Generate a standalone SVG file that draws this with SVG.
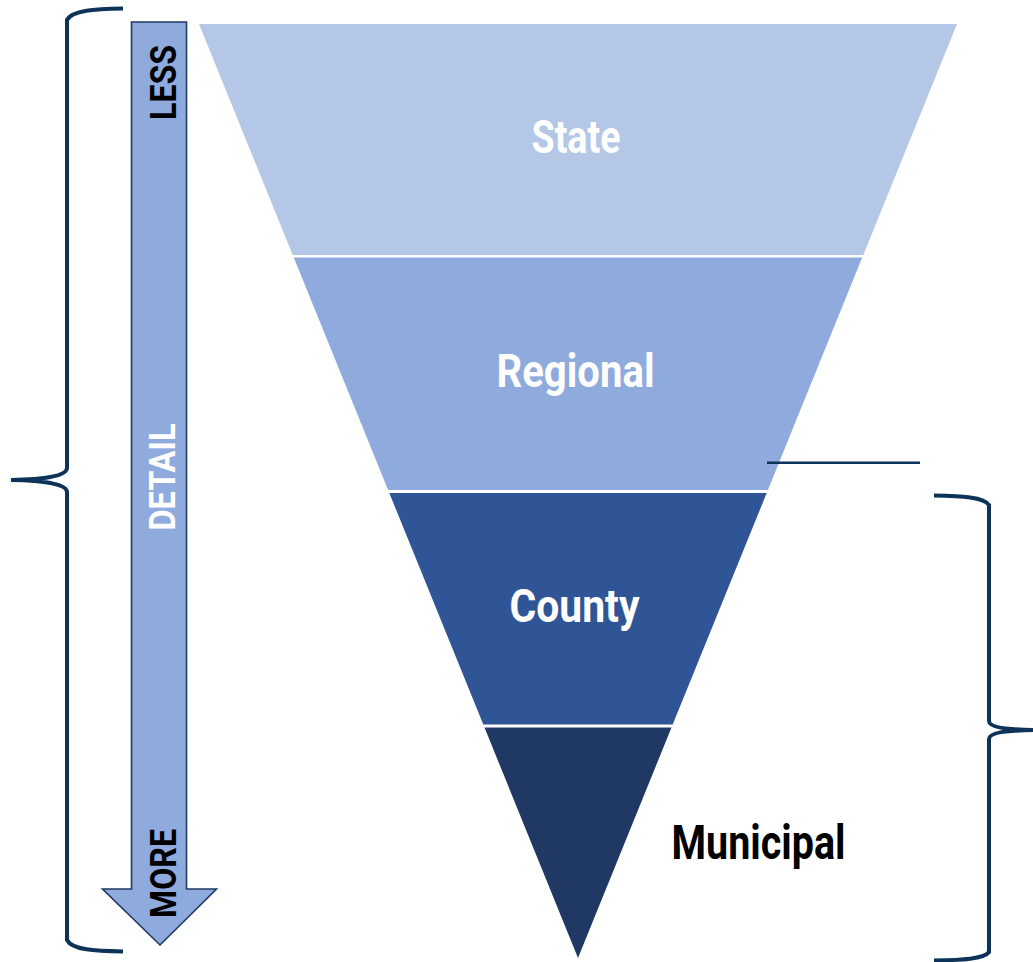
<svg xmlns="http://www.w3.org/2000/svg" width="1033" height="962" viewBox="0 0 1033 962">
<style>
.lbl{font-family:Roboto,"Liberation Sans",sans-serif;font-weight:700;font-size:46px;text-anchor:middle}
.side{font-family:Roboto,"Liberation Sans",sans-serif;font-weight:700;font-size:37px;text-anchor:middle}
.brace{fill:none;stroke:#0D3358;stroke-width:4;stroke-linecap:butt}
</style>
<rect width="1033" height="962" fill="#ffffff"/>
<g id="state"><polygon points="199,24 957,24 863.3,255 292.7,255" fill="#B4C7E7"/><text class="lbl" x="576" y="152.7" fill="#ffffff" textLength="89" lengthAdjust="spacingAndGlyphs">State</text></g>
<g id="regional"><polygon points="293.8,257.5 862.2,257.5 767.9,490 388.1,490" fill="#8FAADC"/><text class="lbl" x="575.5" y="387.3" fill="#ffffff" textLength="158" lengthAdjust="spacingAndGlyphs">Regional</text></g>
<g id="county"><polygon points="389.3,493 766.7,493 672.7,724.5 483.3,724.5" fill="#2F5597"/><text class="lbl" x="574.5" y="622.3" fill="#ffffff" textLength="130" lengthAdjust="spacingAndGlyphs">County</text></g>
<g id="municipal"><polygon points="484.5,727.5 671.5,727.5 578,958" fill="#203864"/><text class="lbl" x="758.5" y="859.3" fill="#000000" style="font-size:48px" textLength="174" lengthAdjust="spacingAndGlyphs">Municipal</text></g>
<g id="detail-arrow">
<polygon points="131.5,22 186.5,22 186.5,889 216.5,889 160,945 102.5,889 131.5,889" fill="#8FAADC" stroke="#1F3864" stroke-width="1.6" stroke-linejoin="miter"/>
<text class="side" transform="translate(176,82.5) rotate(-90)" fill="#000000" textLength="75" lengthAdjust="spacingAndGlyphs">LESS</text>
<text class="side" transform="translate(175,477) rotate(-90)" fill="#ffffff" textLength="107" lengthAdjust="spacingAndGlyphs">DETAIL</text>
<text class="side" transform="translate(176,873.5) rotate(-90)" fill="#000000" textLength="89" lengthAdjust="spacingAndGlyphs">MORE</text>
</g>
<g id="connectors">
<path class="brace" d="M123,8.5 C95,9 72,10 67,20 L67,468 C67,476 45,479.5 11,480 C45,480.5 67,484 67,492 L67,940 C72,950 95,951 123,951.5"/>
<path class="brace" d="M934,495.5 C962,496 984,497 989,505 L989,721 C989,727 1005,729.5 1033,730 C1005,730.5 989,733 989,739 L989,952 C984,959 962,960 934,960.5"/>
<line x1="767" y1="462.7" x2="920" y2="462.7" stroke="#0D3358" stroke-width="2.5"/>
</g>
</svg>
